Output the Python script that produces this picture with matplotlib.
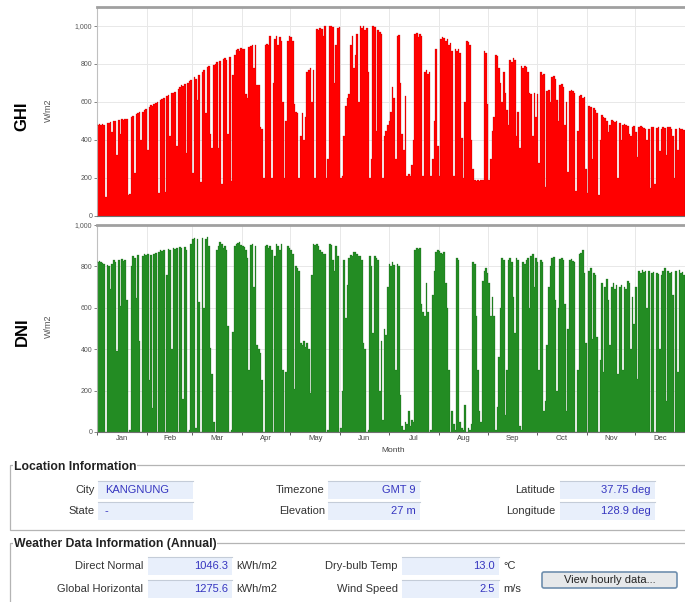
import numpy as np
import matplotlib.pyplot as plt
from matplotlib.patches import Rectangle, FancyBboxPatch

plt.rcParams['font.family'] = ['Liberation Sans', 'DejaVu Sans']

# ---- data (daily peak values, W/m2) ----
months = ['Jan', 'Feb', 'Mar', 'Apr', 'May', 'Jun', 'Jul', 'Aug', 'Sep', 'Oct', 'Nov', 'Dec']
month_days = [31, 28, 31, 30, 31, 30, 31, 31, 30, 31, 30, 31]

ghi_peak = [
    # Jan
    480, 485, 478, 482, 480, 100, 490, 488, 495, 440, 498, 500, 320, 505, 430, 510,
    505, 512, 508, 110, 115, 520, 525, 225, 535, 540, 545, 400, 550, 560, 565,
    # Feb
    350, 575, 585, 580, 590, 595, 600, 120, 610, 615, 620, 125, 630, 635, 420, 645,
    650, 655, 370, 670, 680, 690, 685, 695, 330, 700, 710, 715,
    # Mar
    225, 730, 720, 610, 740, 180, 760, 770, 540, 785, 790, 430, 360, 795, 800, 810,
    360, 815, 170, 825, 830, 820, 430, 835, 185, 740, 850, 875, 880, 870, 885,
    # Apr
    880, 880, 640, 620, 890, 895, 900, 780, 900, 690, 690, 470, 460, 200, 900, 905,
    900, 950, 200, 700, 930, 950, 900, 940, 920, 600, 200, 500, 920, 950,
    # May
    940, 920, 590, 550, 540, 200, 420, 540, 400, 520, 760, 770, 780, 600, 770, 200,
    985, 980, 990, 985, 950, 1000, 200, 300, 1000, 1000, 995, 700, 900, 990, 995,
    # Jun
    200, 210, 420, 580, 620, 640, 900, 950, 780, 850, 960, 600, 1000, 990, 1000, 980,
    990, 760, 200, 300, 1000, 995, 450, 980, 970, 960, 200, 420, 450, 480,
    # Jul
    500, 550, 680, 620, 300, 950, 955, 700, 430, 350, 630, 210, 220, 210, 270, 400,
    960, 965, 940, 960, 950, 210, 760, 770, 750, 760, 210, 300, 500, 880, 370,
    # Aug
    210, 930, 940, 935, 920, 930, 900, 910, 870, 210, 880, 870, 880, 860, 410, 200,
    600, 920, 915, 900, 400, 250, 190, 185, 190, 185, 190, 190, 870, 860, 590,
    # Sep
    190, 300, 450, 520, 850, 840, 780, 700, 600, 760, 650, 560, 480, 820, 810, 830,
    820, 420, 550, 360, 790, 780, 790, 785, 760, 650, 640, 420, 650, 520,
    # Oct
    640, 280, 760, 740, 745, 155, 660, 665, 600, 730, 735, 720, 610, 500, 690, 695,
    680, 480, 600, 230, 660, 665, 660, 650, 130, 450, 630, 635, 620, 625, 250,
    # Nov
    120, 580, 575, 300, 570, 560, 540, 110, 400, 530, 520, 515, 500, 440, 480, 505,
    500, 495, 500, 200, 490, 400, 480, 485, 480, 475, 430, 420, 470, 475,
    # Dec
    440, 310, 470, 472, 470, 465, 460, 400, 460, 150, 470, 468, 170, 465, 470, 340,
    460, 470, 465, 320, 468, 470, 460, 420, 200, 460, 350, 462, 460, 458, 455,
]

dni_peak = [
    # Jan
    820, 825, 820, 815, 810, 0, 805, 800, 690, 810, 830, 820, 390, 830, 610, 835,
    825, 830, 640, 0, 10, 800, 850, 840, 645, 855, 440, 0, 850, 860, 855,
    # Feb
    860, 250, 855, 115, 860, 865, 0, 870, 880, 875, 880, 0, 760, 885, 880, 400,
    890, 885, 890, 0, 895, 890, 160, 895, 880, 0, 10, 910,
    # Mar
    930, 935, 20, 930, 630, 0, 935, 600, 930, 940, 900, 405, 280, 50, 0, 880,
    900, 920, 910, 890, 900, 880, 510, 0, 10, 485, 900, 910, 915, 920, 905,
    # Apr
    900, 895, 880, 840, 300, 905, 910, 700, 900, 420, 400, 380, 250, 0, 900, 905,
    890, 900, 880, 0, 850, 910, 900, 880, 910, 300, 0, 290, 900, 890,
    # May
    880, 860, 210, 800, 790, 780, 430, 420, 440, 410, 430, 400, 190, 760, 910, 905,
    910, 900, 880, 870, 860, 860, 0, 10, 910, 905, 830, 780, 900, 850, 0,
    # Jun
    20, 200, 830, 550, 710, 840, 855, 850, 870, 870, 860, 850, 850, 830, 430, 400,
    0, 10, 850, 800, 480, 850, 840, 830, 200, 440, 60, 500, 470, 700,
    # Jul
    810, 800, 820, 805, 300, 810, 800, 180, 30, 10, 50, 40, 100, 30, 60, 50,
    880, 890, 885, 890, 620, 580, 560, 720, 580, 0, 10, 660, 780, 870, 880,
    # Aug
    875, 865, 860, 870, 720, 600, 300, 0, 100, 40, 10, 840, 830, 50, 20, 10,
    130, 0, 20, 10, 40, 820, 810, 560, 300, 100, 50, 730, 780, 790, 770,
    # Sep
    720, 560, 650, 560, 10, 120, 360, 600, 840, 830, 80, 300, 830, 840, 820, 650,
    480, 840, 830, 30, 10, 820, 810, 830, 840, 600, 850, 860, 700, 840,
    # Oct
    820, 300, 830, 820, 100, 150, 420, 700, 800, 840, 845, 640, 200, 600, 835, 840,
    830, 620, 100, 500, 830, 835, 825, 820, 0, 300, 860, 865, 880, 770, 430,
    # Nov
    0, 780, 790, 450, 770, 760, 460, 0, 350, 720, 290, 700, 740, 640, 420, 700,
    720, 690, 710, 280, 700, 710, 300, 700, 690, 730, 720, 400, 650, 520,
    # Dec
    700, 255, 780, 770, 785, 775, 780, 600, 780, 0, 770, 775, 0, 770, 765, 400,
    760, 780, 790, 150, 780, 770, 775, 660, 0, 780, 290, 785, 770, 775, 760,
]

y_ticks = [0, 200, 400, 600, 800, 1000]

loc_labels = ['City', 'State', 'Timezone', 'Elevation', 'Latitude', 'Longitude']
loc_values = ['KANGNUNG', '-', 'GMT 9', '27 m', '37.75 deg', '128.9 deg']
wx_labels = ['Direct Normal', 'Global Horizontal', 'Dry-bulb Temp', 'Wind Speed']
wx_values = ['1046.3', '1275.6', '13.0', '2.5']
wx_units = ['kWh/m2', 'kWh/m2', '°C', 'm/s']

# ---- figure in pixel units ----
W, H = 685, 602
fig = plt.figure(figsize=(W / 100, H / 100), dpi=100)
fig.patch.set_facecolor('white')


def frame(x0, y0, x1, y1):
    return [x0 / W, 1 - y1 / H, (x1 - x0) / W, (y1 - y0) / H]


starts = np.concatenate([[0], np.cumsum(month_days)[:-1]])
bounds = np.concatenate([starts, [sum(month_days)]]) - 0.5
mids = starts + np.array(month_days) / 2 - 0.5
edges = np.arange(len(ghi_peak) + 1) - 0.5

ax_g = fig.add_axes(frame(97, 7, 685, 216))
ax_d = fig.add_axes(frame(97, 225, 685, 432))

panels = [
    (ax_g, ghi_peak, '#ff0000', '#b00000', 1100, 'GHI', 116),
    (ax_d, dni_peak, '#238c23', '#145c14', 1000, 'DNI', 332),
]
for ax, vals, fc, ec, top, name, yc in panels:
    ax.stairs(vals, edges, fill=True, color=fc, lw=0, zorder=2)
    ax.stairs(vals, edges, color=ec, lw=0.3, alpha=0.6, zorder=3)
    ax.set_xlim(-0.5, len(vals) - 0.5)
    ax.set_ylim(0, top)
    ax.set_yticks(y_ticks)
    ax.set_yticklabels([f'{v:,}' for v in y_ticks])
    ax.set_xticks(bounds)
    ax.set_axisbelow(True)
    ax.grid(color='#e8e8e8', lw=0.7)
    ax.tick_params(axis='y', labelsize=5, colors='#555555', length=2, width=0.5, pad=1.5)
    ax.spines['top'].set_color('#a0a0a0')
    ax.spines['top'].set_linewidth(2)
    ax.spines['left'].set_color('#c0c0c0')
    ax.spines['left'].set_linewidth(0.8)
    ax.spines['bottom'].set_color('#707070')
    ax.spines['bottom'].set_linewidth(0.8)
    ax.spines['right'].set_visible(False)
    fig.text(22 / W, 1 - yc / H, name, rotation=90, fontsize=12, fontweight='bold',
             ha='center', va='center')
    fig.text(48 / W, 1 - (yc - 6) / H, 'W/m2', rotation=90, fontsize=6.5,
             color='#555555', ha='center', va='center')

ax_g.tick_params(axis='x', length=0, labelbottom=False)
ax_d.tick_params(axis='x', which='major', length=2, width=0.6, color='#444444',
                 labelbottom=False)
ax_d.set_xticks(mids, minor=True)
ax_d.set_xticklabels(months, minor=True)
ax_d.tick_params(axis='x', which='minor', length=0, labelsize=5.5, colors='#444444', pad=2)
fig.text(393 / W, 1 - 450 / H, 'Month', fontsize=6, color='#444444', ha='center', va='center')

# ---- information panel ----
ov = fig.add_axes([0, 0, 1, 1])
ov.set_xlim(0, W)
ov.set_ylim(H, 0)
ov.axis('off')

lbl_kw = dict(fontsize=8, color='#333333', va='center')
val_kw = dict(fontsize=8, color='#3636c0', va='center')


def group_box(y0, y1, title):
    ov.add_patch(Rectangle((10, y0), 700, y1 - y0, fill=False, ec='#b4b4b4', lw=0.9))
    ov.text(14, y0 + 1.5, title, fontsize=8.8, fontweight='bold', color='#222222',
            va='center', bbox=dict(fc='white', ec='none', pad=0.5))


def field(label, value, lab_right, bx0, bx1, yc, right_align=True, unit=None):
    ov.add_patch(Rectangle((bx0, yc - 9), bx1 - bx0, 18, fc='#e8effb', ec='none'))
    ov.plot([bx0, bx1], [yc - 9, yc - 9], color='#c4ccd8', lw=0.8)
    ov.text(lab_right, yc, label, ha='right', **lbl_kw)
    if right_align:
        ov.text(bx1 - 4, yc, value, ha='right', **val_kw)
    else:
        ov.text(bx0 + 7, yc, value, ha='left', **val_kw)
    if unit:
        ov.text(bx1 + 4, yc, unit, ha='left', **lbl_kw)


group_box(465, 530, 'Location Information')
loc_rows = [490, 511]
loc_cols = [(95, 98, 193, False), (325, 328, 420, True), (555, 560, 655, True)]
for i, (lab, val) in enumerate(zip(loc_labels, loc_values)):
    lr, b0, b1, ra = loc_cols[i // 2]
    field(lab, val, lr, b0, b1, loc_rows[i % 2], right_align=ra)

group_box(543, 640, 'Weather Data Information (Annual)')
wx_rows = [566, 589]
wx_cols = [(143, 148, 232), (398, 402, 499)]
for i, (lab, val, unit) in enumerate(zip(wx_labels, wx_values, wx_units)):
    lr, b0, b1 = wx_cols[i // 2]
    field(lab, val, lr, b0, b1, wx_rows[i % 2], unit=unit)

ov.add_patch(FancyBboxPatch((542, 572), 135, 16, boxstyle='round,pad=0,rounding_size=2',
                            fc='#e6e8ea', ec='#6f8fae', lw=1.2))
ov.text(609.5, 580, 'View hourly data...', fontsize=8, color='#222222',
        ha='center', va='center')

fig.savefig('out.png', dpi=100)
